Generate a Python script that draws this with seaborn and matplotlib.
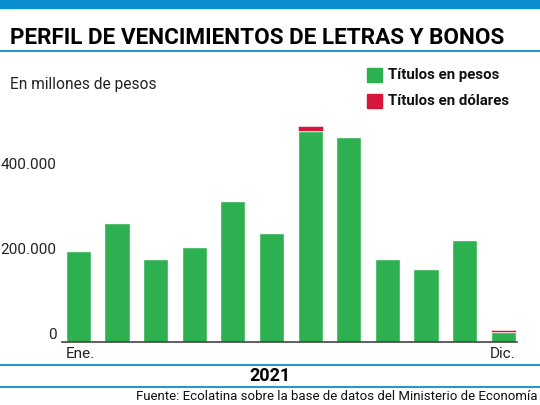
import numpy as np
import pandas as pd
import matplotlib
matplotlib.use("Agg")
import matplotlib.pyplot as plt
import seaborn as sns

# Datos (millones de pesos)
meses = ["Ene.", "Feb.", "Mar.", "Abr.", "May.", "Jun.",
         "Jul.", "Ago.", "Sep.", "Oct.", "Nov.", "Dic."]
titulos_pesos = [215000, 280000, 195000, 223000, 331000, 256000,
                 497000, 483000, 195000, 172000, 240000, 24000]
titulos_dolares = [0, 0, 0, 0, 0, 0, 11000, 0, 0, 0, 0, 3500]
yticks = [0, 200000, 400000]
ytick_labels = ["0", "200.000", "400.000"]

verde = "#2db04f"
rojo = "#d6163b"
azul = "#0a8fd0"

df = pd.DataFrame({"Mes": meses, "Pesos": titulos_pesos, "Dolares": titulos_dolares})

sns.set_style("white")
plt.rcParams["font.family"] = ["Roboto", "DejaVu Sans"]

fig = plt.figure(figsize=(5.4, 4.05), dpi=100)
ax = fig.add_axes([0.115, 0.156, 0.842, 0.545])

ancho = 0.65
sns.barplot(data=df, x="Mes", y="Pesos", color=verde, width=ancho,
            saturation=1, ax=ax)
ax.bar(np.arange(len(meses)), df["Dolares"], bottom=df["Pesos"], width=ancho,
       color=rojo, edgecolor="white", linewidth=0.4)

ax.set_xlim(-0.42, 11.35)
ax.set_ylim(0, 520000)
ax.set_yticks(yticks)
ax.set_yticklabels(ytick_labels, fontsize=11, color="#222222")
# etiquetas sólo en los extremos, alineadas con los bordes de las barras
ax.set_xticks([-ancho / 2, len(meses) - 1 + ancho / 2])
xl = ax.set_xticklabels([meses[0], meses[-1]], fontsize=11, color="#222222")
xl[0].set_ha("left")
xl[1].set_ha("right")
ax.tick_params(axis="both", length=0)
ax.tick_params(axis="y", pad=4)
for lbl in ax.get_yticklabels():
    lbl.set_va("bottom")
ax.set_xlabel("")
ax.set_ylabel("")
for s in ["top", "right", "left"]:
    ax.spines[s].set_visible(False)
ax.spines["bottom"].set_color("#444444")
ax.spines["bottom"].set_linewidth(1.2)

# Encabezado y líneas decorativas
fig.patches.append(plt.Rectangle((0, 1 - 8 / 405), 1, 8 / 405, transform=fig.transFigure,
                                 color=azul, zorder=0))
for ypx in [51, 365, 387]:
    fig.add_artist(plt.Line2D([0, 1], [1 - ypx / 405] * 2, color=azul, lw=1.3))

fig.text(10 / 540, 1 - 38 / 405, "PERFIL DE VENCIMIENTOS DE LETRAS Y BONOS",
         fontsize=16.2, fontweight="bold", va="center", ha="left", color="black")
fig.text(10 / 540, 1 - 85 / 405, "En millones de pesos", fontsize=11.2,
         va="center", ha="left", color="#222222")

# Leyenda
for ypx, col, txt in [(75, verde, "Títulos en pesos"), (101, rojo, "Títulos en dólares")]:
    fig.patches.append(plt.Rectangle((367 / 540, 1 - (ypx + 7) / 405), 15 / 540, 14 / 405,
                                     transform=fig.transFigure, color=col))
    fig.text(388 / 540, 1 - ypx / 405, txt, fontsize=10.8, fontweight="bold",
             va="center", ha="left", color="#111111")

fig.text(270 / 540, 1 - 376 / 405, "2021", fontsize=13, fontweight="bold",
         va="center", ha="center", color="black")
fig.text(537 / 540, 1 - 397 / 405,
         "Fuente: Ecolatina sobre la base de datos del Ministerio de Economía",
         fontsize=9.5, va="center", ha="right", color="#111111")

fig.savefig("out.png", dpi=100)
